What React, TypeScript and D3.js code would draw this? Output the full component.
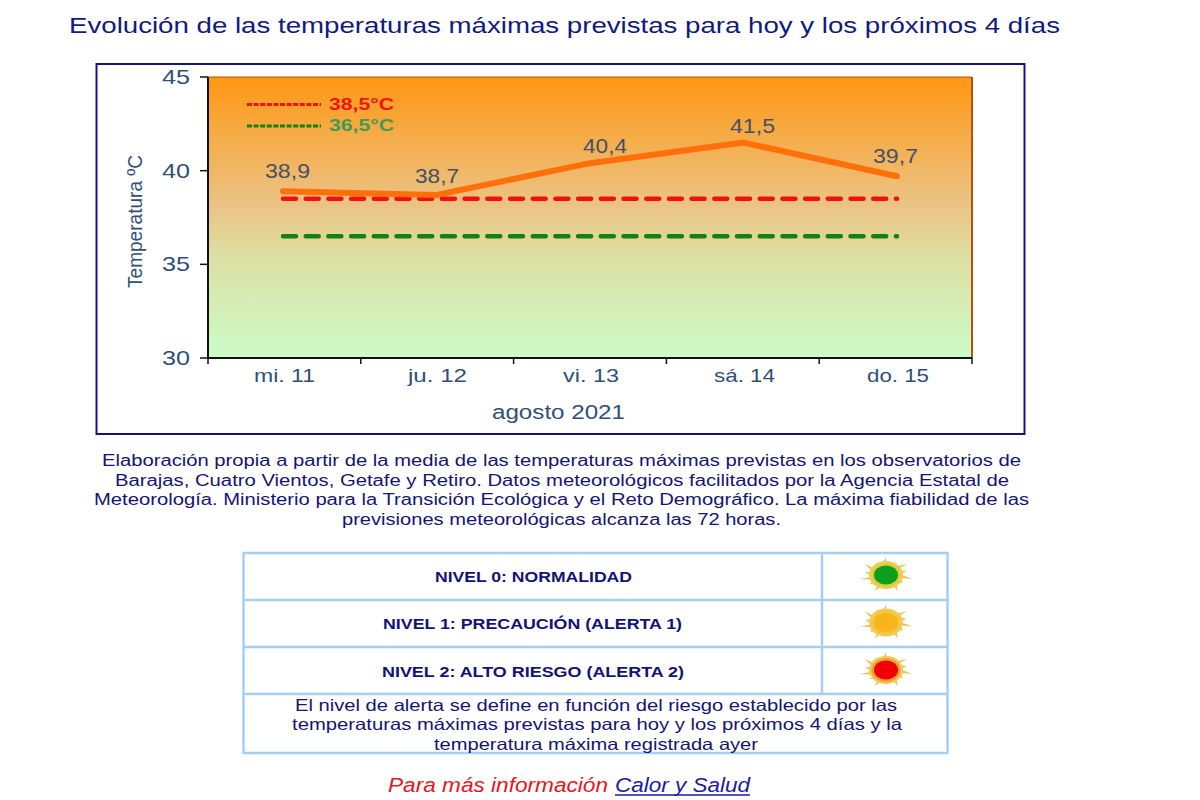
import React from "react";
import * as d3 from "d3";

const days = ["mi. 11", "ju. 12", "vi. 13", "sá. 14", "do. 15"];
const maxTemps = [38.9, 38.7, 40.4, 41.5, 39.7];
const maxLabels = ["38,9", "38,7", "40,4", "41,5", "39,7"];
const yTicks = [30, 35, 40, 45];
const alertRed = 38.5;
const alertGreen = 36.5;

const dayLabelBox = [[254, 315], [408, 467], [563, 619], [714, 775], [867, 929]];
const valueLabelBox = [[265, 310, 178], [415, 459, 183], [583, 627, 153], [730, 775, 133], [873, 918, 163]];

const noteLines = [
  { t: "Elaboración propia a partir de la media de las temperaturas máximas previstas en los observatorios de", x0: 102, x1: 1021, y: 466 },
  { t: "Barajas, Cuatro Vientos, Getafe y Retiro. Datos meteorológicos facilitados por la Agencia Estatal de", x0: 115, x1: 1009, y: 486 },
  { t: "Meteorología. Ministerio para la Transición Ecológica y el Reto Demográfico. La máxima fiabilidad de las", x0: 94, x1: 1029, y: 505 },
  { t: "previsiones meteorológicas alcanza las 72 horas.", x0: 342, x1: 781, y: 525 },
];
const levels = [
  { t: "NIVEL 0: NORMALIDAD", x0: 435, x1: 632, y: 582, core: "#0aa01e", rim: "#d9cf3c" },
  { t: "NIVEL 1: PRECAUCIÓN (ALERTA 1)", x0: 383, x1: 682, y: 629, core: "#f7b519", rim: "#f3c544" },
  { t: "NIVEL 2: ALTO RIESGO (ALERTA 2)", x0: 382, x1: 684, y: 677, core: "#f00000", rim: "#f0a030" },
];
const alertLines = [
  { t: "El nivel de alerta se define en función del riesgo establecido por las", x0: 295, x1: 897, y: 711 },
  { t: "temperaturas máximas previstas para hoy y los próximos 4 días y la", x0: 292, x1: 902, y: 730 },
  { t: "temperatura máxima registrada ayer", x0: 434, x1: 758, y: 750 },
];

const font = "'Liberation Sans', Arial, sans-serif";
const blue = "#2f4f78";
const navy = "#14147a";
const tableBlue = "#a6cff2";

function Fit({ t, x0, x1, y, size, fill, weight, style }: any) {
  return (
    <text x={x0} y={y} fontSize={size} fill={fill} fontWeight={weight} fontStyle={style}
      textLength={x1 - x0} lengthAdjust="spacingAndGlyphs" fontFamily={font}>{t}</text>
  );
}

function Sun({ cx, cy, core, rim }: { cx: number; cy: number; core: string; rim: string }) {
  const n = 14;
  const rays = d3.range(n).map((i) => {
    const a = (i / n) * 2 * Math.PI + 0.1;
    const long = i % 2 === 0 ? 27 : 21;
    const p = (r: number, ang: number) => [cx + r * Math.cos(ang), cy + r * 0.66 * Math.sin(ang)].join(",");
    return `${p(14, a - 0.14)} Q ${p(20, a - 0.02)} ${p(long, a + 0.12)} Q ${p(19, a + 0.16)} ${p(14, a + 0.14)}`;
  });
  return (
    <g>
      {rays.map((pts, i) => <path key={i} d={`M ${pts} Z`} fill="#e9c25c" />)}
      <ellipse cx={cx} cy={cy} rx={17} ry={14} fill="#f0cc58" />
      <ellipse cx={cx} cy={cy} rx={14.5} ry={12} fill={rim} />
      <ellipse cx={cx} cy={cy} rx={12} ry={9.5} fill={core} />
    </g>
  );
}

export default function App() {
  const left = 208, right = 972, top = 77, bottom = 358;
  const xBand = d3.scaleBand().domain(days).range([left, right]);
  const xPoint = d3.scalePoint().domain(days).range([283, 897]);
  const y = d3.scaleLinear().domain([30, 45]).range([bottom, top]);
  const line = d3.line<number>().x((_, i) => xPoint(days[i]) as number).y((v) => y(v));
  const flat = (v: number) => line(days.map(() => v)) as string;
  const xEdges = d3.range(days.length + 1).map((i) => left + i * xBand.bandwidth());

  return (
    <svg width={1200} height={800} style={{ position: "absolute", left: 0, top: 0, background: "#fff" }}>
      <defs>
        <linearGradient id="bg" x1="0" y1="0" x2="0" y2="1">
          <stop offset="0" stopColor="#ff9712" />
          <stop offset="0.45" stopColor="#ebc384" />
          <stop offset="0.65" stopColor="#dde0a4" />
          <stop offset="1" stopColor="#ccfcc8" />
        </linearGradient>
      </defs>

      <Fit t="Evolución de las temperaturas máximas previstas para hoy y los próximos 4 días" x0={69} x1={1060} y={33} size={22} fill="#101a80" />

      <rect x={96.5} y={64} width={928} height={370} fill="#fff" stroke={navy} strokeWidth={2} />
      <rect x={left} y={top} width={right - left} height={bottom - top} fill="url(#bg)" />
      <line x1={right} x2={right} y1={top} y2={bottom} stroke="#b5500f" strokeWidth={2} />
      <line x1={left} x2={right} y1={top} y2={top} stroke="#a85a10" strokeWidth={1} />

      <line x1={left} x2={left} y1={top} y2={bottom} stroke="#111" strokeWidth={2} />
      <line x1={left} x2={right} y1={bottom} y2={bottom} stroke="#111" strokeWidth={2} />
      {yTicks.map((t) => (
        <g key={t}>
          <line x1={left - 8} x2={left} y1={y(t)} y2={y(t)} stroke="#111" strokeWidth={1.5} />
          <Fit t={String(t)} x0={162} x1={190} y={y(t) + 7} size={21} fill={blue} />
        </g>
      ))}
      {xEdges.map((x, i) => (
        <line key={i} x1={x} x2={x} y1={bottom} y2={bottom + 6} stroke="#111" strokeWidth={1.5} />
      ))}
      {days.map((d, i) => (
        <Fit key={d} t={d} x0={dayLabelBox[i][0]} x1={dayLabelBox[i][1]} y={382} size={19} fill={blue} />
      ))}
      <Fit t="agosto 2021" x0={492} x1={625} y={419} size={20} fill={blue} />
      <text transform="translate(142,288) rotate(-90)" fontSize={21} fontFamily={font} fill={blue}
        textLength={133} lengthAdjust="spacingAndGlyphs">Temperatura ºC</text>

      <path d={flat(alertRed)} fill="none" stroke="#f01010" strokeWidth={4.5} strokeLinecap="round" strokeDasharray="13 9.7" />
      <path d={flat(alertGreen)} fill="none" stroke="#148010" strokeWidth={4.5} strokeLinecap="round" strokeDasharray="13 9.7" />
      <path d={line(maxTemps) as string} fill="none" stroke="#ff6f0a" strokeWidth={6} strokeLinecap="round" strokeLinejoin="round" />
      {days.map((d, i) => (
        <Fit key={d} t={maxLabels[i]} x0={valueLabelBox[i][0]} x1={valueLabelBox[i][1]} y={valueLabelBox[i][2]} size={20} fill="#46506a" />
      ))}

      <line x1={247} x2={321} y1={104.5} y2={104.5} stroke="#f01010" strokeWidth={3} strokeDasharray="5 1.6" />
      <line x1={247} x2={321} y1={126} y2={126} stroke="#148010" strokeWidth={3} strokeDasharray="5 1.6" />
      <Fit t="38,5°C" x0={329} x1={394} y={110} size={17} fill="#ee1512" weight="bold" />
      <Fit t="36,5°C" x0={329} x1={394} y={131} size={17} fill="#3f9a55" weight="bold" />

      {noteLines.map((l) => <Fit key={l.t} {...l} size={16} fill="#141478" />)}

      <rect x={243.5} y={553} width={704} height={200} fill="none" stroke={tableBlue} strokeWidth={2.5} />
      {[600, 647, 694].map((v) => <line key={v} x1={243} x2={948} y1={v} y2={v} stroke={tableBlue} strokeWidth={2.5} />)}
      <line x1={822} x2={822} y1={553} y2={694} stroke={tableBlue} strokeWidth={2.5} />
      {levels.map((l, i) => (
        <g key={l.t}>
          <Fit t={l.t} x0={l.x0} x1={l.x1} y={l.y} size={15} fill="#12127a" weight="bold" />
          <Sun cx={886} cy={575 + i * 47.5} core={l.core} rim={l.rim} />
        </g>
      ))}
      {alertLines.map((l) => <Fit key={l.t} {...l} size={16.5} fill="#141478" />)}

      <Fit t="Para más información" x0={388} x1={608} y={792} size={20} fill="#e8151a" style="italic" />
      <Fit t="Calor y Salud" x0={615} x1={750} y={792} size={20} fill="#1a1aa8" style="italic" />
      <line x1={615} x2={750} y1={795} y2={795} stroke="#1a1aa8" strokeWidth={1.5} />
    </svg>
  );
}
